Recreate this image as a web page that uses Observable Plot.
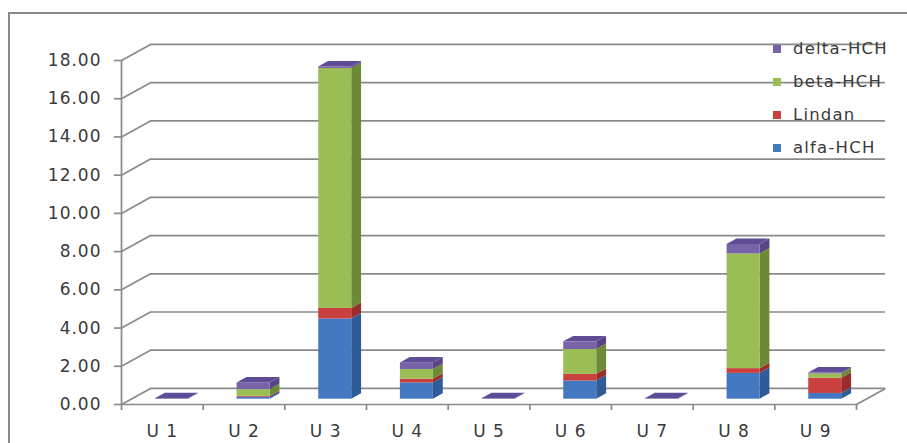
<!DOCTYPE html>
<html>
<head>
<meta charset="utf-8">
<script src="https://cdn.jsdelivr.net/npm/d3@7"></script>
<script src="https://cdn.jsdelivr.net/npm/@observablehq/plot@0.6"></script>
<style>
  html, body { margin: 0; padding: 0; background: #fff; }
  #chart { position: relative; width: 907px; height: 443px; overflow: hidden; background: #fff; font-family: "DejaVu Sans", sans-serif; }
  #chart svg { position: absolute; left: 0; top: 0; }
  #chart svg text { letter-spacing: 1px; }
  #frame { position: absolute; left: 8px; top: 12px; width: 910px; height: 440px; border-top: 2px solid #8a8a8a; border-left: 2px solid #8a8a8a; box-sizing: border-box; pointer-events: none; }
  #legend { position: absolute; left: 773px; top: 32px; color: #3a3a3a; font-size: 16.5px; letter-spacing: 1.2px; }
  #legend .row { display: flex; align-items: center; height: 33px; }
  #legend .sw { width: 8px; height: 8px; margin-right: 12px; }
</style>
</head>
<body>
<div id="chart">
  <div id="frame"></div>
  <div id="legend"></div>
</div>
<script>
// HCH isomers per sampling point
const categories = ["U 1", "U 2", "U 3", "U 4", "U 5", "U 6", "U 7", "U 8", "U 9"];
const alfaHCH  = [0.00, 0.10, 4.20, 0.85, 0.00, 0.95, 0.00, 1.35, 0.30];
const lindan   = [0.00, 0.05, 0.55, 0.20, 0.00, 0.35, 0.00, 0.25, 0.80];
const betaHCH  = [0.00, 0.35, 12.55, 0.50, 0.00, 1.30, 0.00, 6.00, 0.22];
const deltaHCH = [0.03, 0.35, 0.08, 0.35, 0.03, 0.40, 0.03, 0.50, 0.05];

const seriesNames = ["alfa-HCH", "Lindan", "beta-HCH", "delta-HCH"];
const seriesValues = [alfaHCH, lindan, betaHCH, deltaHCH];
const frontColors = ["#4479c2", "#c9403e", "#9bbd55", "#7862a8"];
const sideColors  = ["#2f5c98", "#992e2c", "#6d8a36", "#574683"];
const topColors   = ["#5b8fd2", "#d8605d", "#b2cf72", "#5f4c97"];

const yTicks = [0, 2, 4, 6, 8, 10, 12, 14, 16, 18];
const xTicks = d3.range(categories.length + 1);

// oblique 3-D projection, expressed in axis units
const depthX = 0.355;   // wall depth along x (category units)
const depthY = 0.84;    // wall depth along y (value units)
const barW = 0.404;     // front face width (category units)
const f0 = 0.33;        // depth position of the bar front
const fd = 0.34;        // bar depth as a share of wall depth
const offX = 0.5 - barW / 2 + f0 * depthX;
const offY = f0 * depthY;
const ddx = fd * depthX, ddy = fd * depthY;

// stacked segments
const segments = [];
categories.forEach((c, i) => {
  let base = 0;
  seriesValues.forEach((vals, s) => {
    const v = vals[i];
    segments.push({i, s, key: `${i}-${s}`, y0: base, y1: base + v});
    base += v;
  });
});

const sidePts = segments.flatMap(d => {
  const xr = d.i + offX + barW;
  return [
    {key: d.key, s: d.s, x: xr, y1: d.y0 + offY, y2: d.y1 + offY},
    {key: d.key, s: d.s, x: xr + ddx, y1: d.y0 + offY + ddy, y2: d.y1 + offY + ddy}
  ];
});

const tops = categories.map((c, i) => {
  const total = d3.sum(seriesValues, vals => vals[i]);
  let s = seriesValues.length - 1;
  while (s > 0 && seriesValues[s][i] === 0) s--;
  return {i, s, total};
});
const topPts = tops.flatMap(d => {
  const xl = d.i + offX;
  return [
    {i: d.i, s: d.s, y: d.total + offY, x1: xl, x2: xl + barW},
    {i: d.i, s: d.s, y: d.total + offY + ddy, x1: xl + ddx, x2: xl + barW + ddx}
  ];
});

const gridColor = "#8a8a8a";
const textColor = "#3a3a3a";

const plot = Plot.plot({
  width: 907,
  height: 443,
  marginLeft: 121,
  marginRight: 51,
  marginTop: 60,
  marginBottom: 39,
  style: {fontFamily: "DejaVu Sans, sans-serif", fontSize: "17px", background: "transparent", overflow: "visible"},
  x: {domain: [0, categories.length], axis: null},
  y: {domain: [0, 18], axis: null},
  color: {type: "identity"},
  marks: [
    // back wall gridlines and their links to the value axis
    Plot.ruleY(yTicks, {y: d => d + depthY, x1: depthX, x2: categories.length + depthX, stroke: gridColor, strokeWidth: 1.7}),
    Plot.link(yTicks, {x1: 0, y1: d => d, x2: depthX, y2: d => d + depthY, stroke: gridColor, strokeWidth: 1.7}),
    // floor edges
    Plot.ruleY([0], {x1: 0, x2: categories.length, stroke: gridColor, strokeWidth: 1.7}),
    Plot.link([0], {x1: categories.length, y1: 0, x2: categories.length + depthX, y2: depthY, stroke: gridColor, strokeWidth: 1.7}),
    // value axis
    Plot.ruleX([0], {y1: 0, y2: 18, stroke: gridColor, strokeWidth: 1.7}),
    Plot.axisY(yTicks, {tickSize: 7, tickPadding: 13, tickFormat: d => d.toFixed(2), stroke: gridColor, strokeWidth: 1.7, fill: textColor, fontSize: 17, label: null}),
    // category axis ticks and labels
    Plot.axisX(xTicks, {tickSize: 6, tickFormat: () => "", stroke: gridColor, strokeWidth: 1.7, label: null}),
    Plot.text(categories, {x: (d, i) => i + 0.5, y: () => 0, dy: 27, text: d => d, fill: textColor, fontSize: 17}),
    // bar side faces
    Plot.areaY(sidePts, {x: "x", y1: "y1", y2: "y2", z: "key", fill: d => sideColors[d.s]}),
    // bar front faces
    Plot.rect(segments, {
      x1: d => d.i + offX,
      x2: d => d.i + offX + barW,
      y1: d => d.y0 + offY,
      y2: d => d.y1 + offY,
      fill: d => frontColors[d.s]
    }),
    // bar top faces
    Plot.areaX(topPts, {y: "y", x1: "x1", x2: "x2", z: "i", fill: d => topColors[d.s]})
  ]
});

document.getElementById("chart").insertBefore(plot, document.getElementById("frame"));

// legend, listed top-down in reverse stacking order
const legend = d3.select("#legend");
seriesNames.map((name, s) => ({name, s})).reverse().forEach(d => {
  const row = legend.append("div").attr("class", "row");
  row.append("div").attr("class", "sw").style("background", frontColors[d.s]);
  row.append("span").text(d.name);
});
</script>
</body>
</html>
